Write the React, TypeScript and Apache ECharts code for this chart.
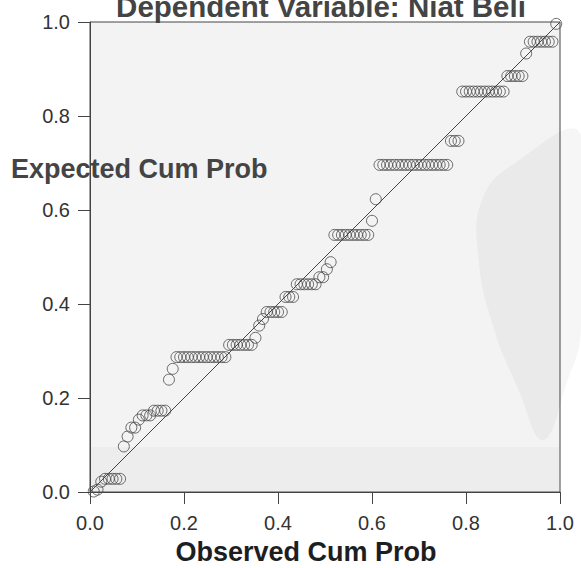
import { useEffect, useRef } from "react";
import * as echarts from "echarts";

// Observed cumulative probability (x) of each case, in rank order
const observedCumProb = [
  0.008, 0.016, 0.024, 0.032, 0.040, 0.048, 0.056, 0.064, 0.072, 0.080,
  0.088, 0.096, 0.104, 0.112, 0.120, 0.128, 0.136, 0.144, 0.152, 0.160,
  0.168, 0.176, 0.184, 0.192, 0.200, 0.208, 0.216, 0.224, 0.232, 0.240,
  0.248, 0.256, 0.264, 0.272, 0.280, 0.288, 0.296, 0.304, 0.312, 0.320,
  0.328, 0.336, 0.344, 0.352, 0.360, 0.368, 0.376, 0.384, 0.392, 0.400,
  0.408, 0.416, 0.424, 0.432, 0.440, 0.448, 0.456, 0.464, 0.472, 0.480,
  0.488, 0.496, 0.504, 0.512, 0.520, 0.528, 0.536, 0.544, 0.552, 0.560,
  0.568, 0.576, 0.584, 0.592, 0.600, 0.608, 0.616, 0.624, 0.632, 0.640,
  0.648, 0.656, 0.664, 0.672, 0.680, 0.688, 0.696, 0.704, 0.712, 0.720,
  0.728, 0.736, 0.744, 0.752, 0.760, 0.768, 0.776, 0.784, 0.792, 0.800,
  0.808, 0.816, 0.824, 0.832, 0.840, 0.848, 0.856, 0.864, 0.872, 0.880,
  0.888, 0.896, 0.904, 0.912, 0.920, 0.928, 0.936, 0.944, 0.952, 0.960,
  0.968, 0.976, 0.984, 0.992,
];

// Expected cumulative probability (y) of each case
const expectedCumProb = [
  0.001, 0.005, 0.022, 0.028, 0.028, 0.028, 0.028, 0.028, 0.097, 0.118,
  0.137, 0.137, 0.154, 0.163, 0.163, 0.163, 0.173, 0.173, 0.173, 0.173,
  0.239, 0.262, 0.287, 0.287, 0.287, 0.287, 0.287, 0.287, 0.287, 0.287,
  0.287, 0.287, 0.287, 0.287, 0.287, 0.287, 0.313, 0.313, 0.313, 0.313,
  0.313, 0.313, 0.313, 0.328, 0.354, 0.368, 0.383, 0.383, 0.383, 0.383,
  0.383, 0.415, 0.415, 0.415, 0.442, 0.442, 0.442, 0.442, 0.442, 0.442,
  0.457, 0.457, 0.474, 0.489, 0.547, 0.547, 0.547, 0.547, 0.547, 0.547,
  0.547, 0.547, 0.547, 0.547, 0.577, 0.623, 0.696, 0.696, 0.696, 0.696,
  0.696, 0.696, 0.696, 0.696, 0.696, 0.696, 0.696, 0.696, 0.696, 0.696,
  0.696, 0.696, 0.696, 0.696, 0.696, 0.747, 0.747, 0.747, 0.852, 0.852,
  0.852, 0.852, 0.852, 0.852, 0.852, 0.852, 0.852, 0.852, 0.852, 0.852,
  0.885, 0.885, 0.885, 0.885, 0.885, 0.933, 0.958, 0.958, 0.958, 0.958,
  0.958, 0.958, 0.958, 0.996,
];

// Reference (diagonal) line end points
const referenceLine = [
  [0, 0],
  [1, 1],
];

const titleText = "Dependent Variable: Niat Beli";
const xAxisTitle = "Observed Cum Prob";
const yAxisTitle = "Expected Cum Prob";

const FONT = "'Liberation Sans', Arial, Helvetica, sans-serif";

export default function App() {
  const ref = useRef<HTMLDivElement>(null);

  useEffect(() => {
    if (!ref.current) return;
    const chart = echarts.init(ref.current, null, { renderer: "svg" });

    const points = observedCumProb.map((x, i) => [x, expectedCumProb[i]]);

    const axisCommon = {
      type: "value" as const,
      min: 0,
      max: 1,
      interval: 0.2,
      splitLine: { show: false },
      axisLine: { show: true, lineStyle: { color: "#444", width: 1 } },
      axisTick: {
        show: true,
        length: 12,
        inside: false,
        lineStyle: { color: "#444", width: 1 },
      },
    };

    chart.setOption({
      animation: false,
      backgroundColor: "#ffffff",
      grid: {
        left: 90,
        right: 21,
        top: 22,
        bottom: 76,
        show: true,
        backgroundColor: "#f3f3f3",
        borderColor: "#444",
        borderWidth: 1,
        containLabel: false,
        outerBoundsMode: "none",
      },
      xAxis: {
        ...axisCommon,
        axisLabel: {
          fontFamily: FONT,
          fontSize: 20,
          color: "#333",
          margin: 21,
          formatter: (v: number) => v.toFixed(1),
        },
      },
      yAxis: {
        ...axisCommon,
        axisLabel: {
          fontFamily: FONT,
          fontSize: 20,
          color: "#333",
          margin: 20,
          formatter: (v: number) => v.toFixed(1),
        },
      },
      graphic: [
        // faint watermark shapes
        {
          type: "rect",
          z: 1,
          silent: true,
          shape: { x: 91, y: 447, width: 468, height: 44 },
          style: { fill: "rgba(0,0,0,0.025)" },
        },
        {
          type: "polygon",
          z: 1,
          silent: true,
          shape: {
            points: [
              [543, 440],
              [519, 391],
              [493, 326],
              [478, 254],
              [482, 200],
              [512, 165],
              [581, 135],
              [581, 330],
              [566, 385],
            ],
            smooth: 0.45,
          },
          style: { fill: "rgba(0,0,0,0.035)" },
        },
        {
          type: "text",
          z: 10,
          x: 321,
          y: 6,
          style: {
            text: titleText,
            font: `bold 29.5px ${FONT}`,
            fill: "#444",
            align: "center",
            verticalAlign: "middle",
          },
        },
        {
          type: "text",
          z: 10,
          x: 11,
          y: 169,
          style: {
            text: yAxisTitle,
            font: `bold 27px ${FONT}`,
            fill: "#444",
            align: "left",
            verticalAlign: "middle",
          },
        },
        {
          type: "text",
          z: 10,
          x: 306,
          y: 552,
          style: {
            text: xAxisTitle,
            font: `bold 27px ${FONT}`,
            fill: "#1e1e1e",
            align: "center",
            verticalAlign: "middle",
          },
        },
      ],
      series: [
        {
          type: "line",
          data: referenceLine,
          symbol: "none",
          silent: true,
          z: 3,
          lineStyle: { color: "#444", width: 1 },
        },
        {
          type: "scatter",
          data: points,
          symbol: "circle",
          symbolSize: 11,
          z: 4,
          itemStyle: {
            color: "rgba(0,0,0,0)",
            borderColor: "#484848",
            borderWidth: 1,
          },
        },
      ],
    });

    return () => chart.dispose();
  }, []);

  return (
    <div
      ref={ref}
      style={{ position: "fixed", left: 0, top: 0, width: 581, height: 568 }}
    />
  );
}
